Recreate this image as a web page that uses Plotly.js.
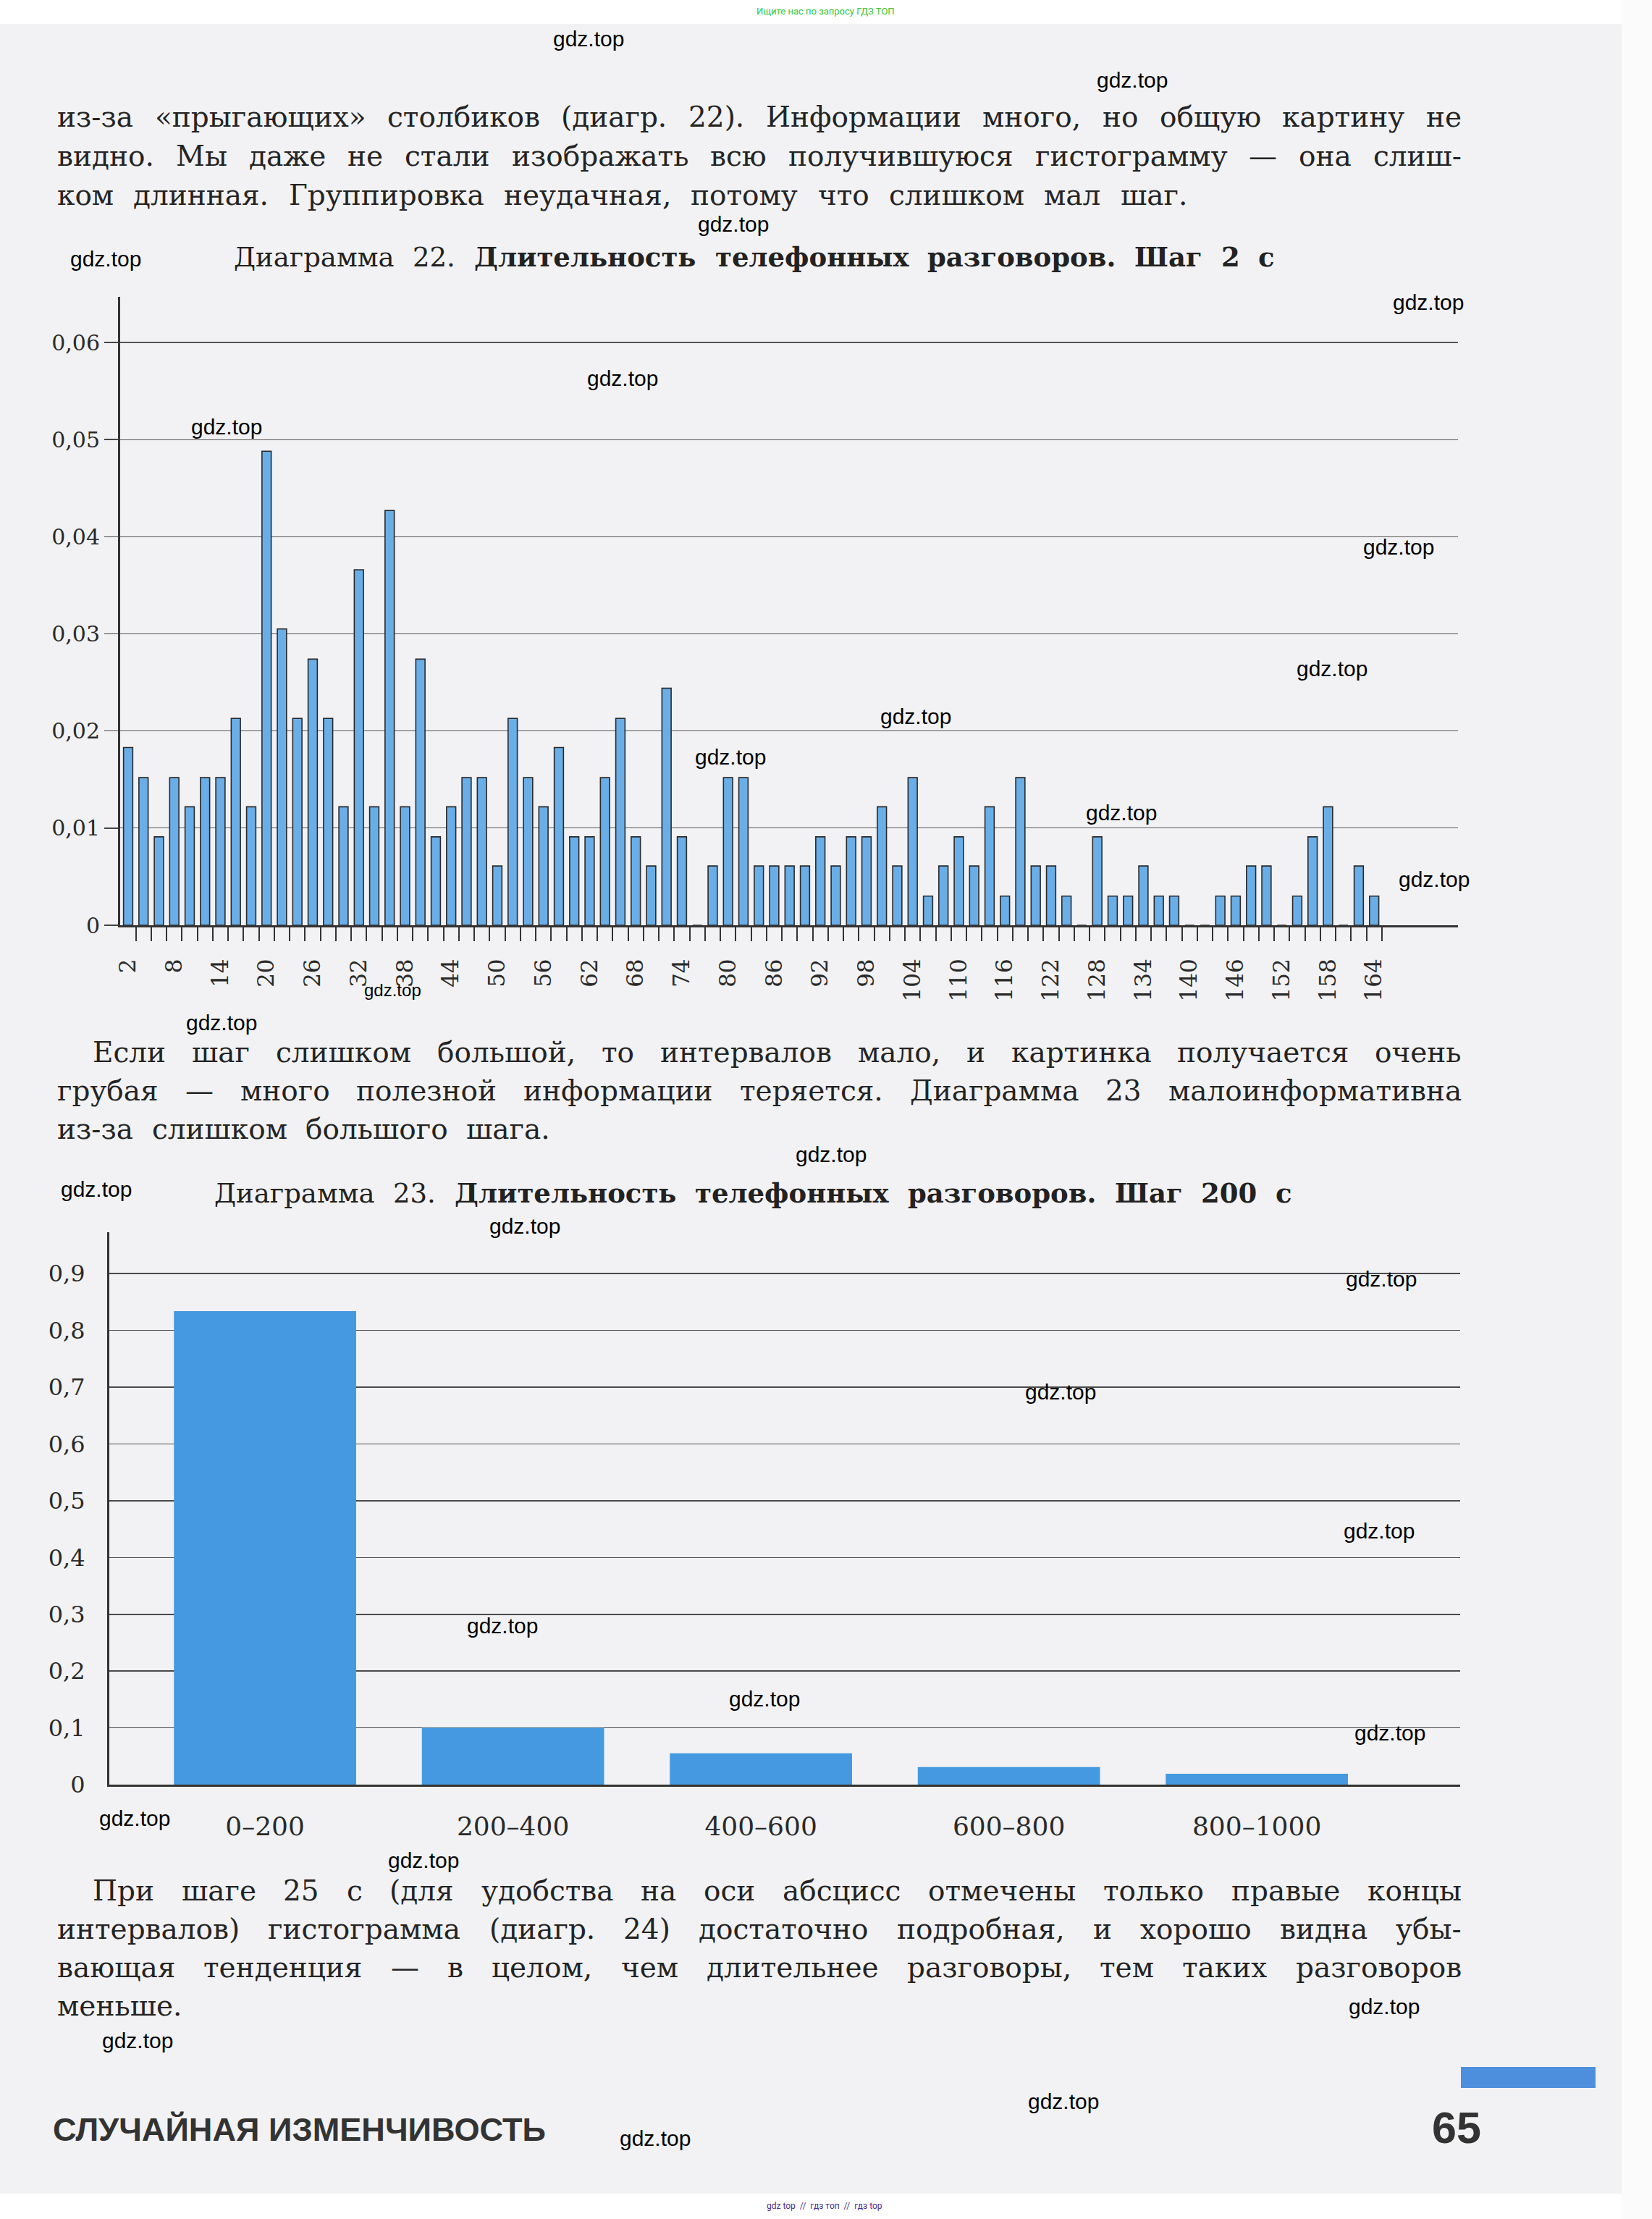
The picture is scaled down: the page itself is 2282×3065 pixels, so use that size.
<!DOCTYPE html>
<html><head><meta charset="utf-8">
<script src="https://cdn.plot.ly/plotly-3.0.1.min.js"></script>
<style>html,body{margin:0;padding:0;background:#f1f1f3}#page{width:2282px;height:3065px}</style>
</head><body><div id="page"></div>
<script>
const W = 2282, H = 3065;

// ---------- Диаграмма 22: шаг 2 с (правые концы интервалов) ----------
const bins22 = [2,4,6,8,10,12,14,16,18,20,22,24,26,28,30,32,34,36,38,40,
  42,44,46,48,50,52,54,56,58,60,62,64,66,68,70,72,74,76,78,80,
  82,84,86,88,90,92,94,96,98,100,102,104,106,108,110,112,114,116,118,120,
  122,124,126,128,130,132,134,136,138,140,142,144,146,148,150,152,154,156,158,160,
  162,164];
const share22 = [0.0183,0.0152,0.0091,0.0152,0.0122,0.0152,0.0152,0.0213,0.0122,0.0488,
  0.0305,0.0213,0.0274,0.0213,0.0122,0.0366,0.0122,0.0427,0.0122,0.0274,
  0.0091,0.0122,0.0152,0.0152,0.0061,0.0213,0.0152,0.0122,0.0183,0.0091,
  0.0091,0.0152,0.0213,0.0091,0.0061,0.0244,0.0091,0,0.0061,0.0152,
  0.0152,0.0061,0.0061,0.0061,0.0061,0.0091,0.0061,0.0091,0.0091,0.0122,
  0.0061,0.0152,0.0030,0.0061,0.0091,0.0061,0.0122,0.0030,0.0152,0.0061,
  0.0061,0.0030,0,0.0091,0.0030,0.0030,0.0061,0.0030,0.0030,0,
  0,0.0030,0.0030,0.0061,0.0061,0,0.0030,0.0091,0.0122,0,
  0.0061,0.0030];
const xTickVals22 = [2,8,14,20,26,32,38,44,50,56,62,68,74,80,86,92,98,104,110,116,122,128,134,140,146,152,158,164];
const xTickText22 = ['2','8','14','20','26','32','38','44','50','56','62','68','74','80','86','92','98','104','110','116','122','128','134','140','146','152','158','164'];
const yTickVals22 = [0,0.01,0.02,0.03,0.04,0.05,0.06];
const yTickText22 = ['0','0,01','0,02','0,03','0,04','0,05','0,06'];

// ---------- Диаграмма 23: шаг 200 с ----------
const cats23 = ['0–200','200–400','400–600','600–800','800–1000'];
const share23 = [0.834,0.100,0.055,0.031,0.019];
const yTickVals23 = [0,0.1,0.2,0.3,0.4,0.5,0.6,0.7,0.8,0.9];
const yTickText23 = ['0','0,1','0,2','0,3','0,4','0,5','0,6','0,7','0,8','0,9'];

// ---------- Тексты страницы ----------
const para1 = [
 'из-за «прыгающих» столбиков (диагр. 22). Информации много, но общую картину не',
 'видно. Мы даже не стали изображать всю получившуюся гистограмму — она слиш-',
 'ком длинная. Группировка неудачная, потому что слишком мал шаг.'
];
const para2 = [
 'Если шаг слишком большой, то интервалов мало, и картинка получается очень',
 'грубая — много полезной информации теряется. Диаграмма 23 малоинформативна',
 'из-за слишком большого шага.'
];
const para3 = [
 'При шаге 25 с (для удобства на оси абсцисс отмечены только правые концы',
 'интервалов) гистограмма (диагр. 24) достаточно подробная, и хорошо видна убы-',
 'вающая тенденция — в целом, чем длительнее разговоры, тем таких разговоров',
 'меньше.'
];
const title22Lead = 'Диаграмма 22.';
const title22Rest = 'Длительность телефонных разговоров. Шаг 2 с';
const title23Lead = 'Диаграмма 23.';
const title23Rest = 'Длительность телефонных разговоров. Шаг 200 с';
const footerLeft = 'СЛУЧАЙНАЯ ИЗМЕНЧИВОСТЬ';
const pageNum = '65';
const topNote = 'Ищите нас по запросу ГДЗ ТОП';
const bottomNote = 'gdz top  //  гдз топ  //  гдз top';
const wmText = 'gdz.top';
const wmPos = [[813,53],[1564,110],[1013,309],[146,357],[1973,417],[860,522],[313,589],
  [1932,755],[1840,923],[1265,989],[1009,1046],[1549,1122],[1981,1214],[542,1367],
  [306,1412],[1148,1594],[133,1643],[725,1693],[1908,1766],[1465,1922],[1905,2114],
  [694,2245],[1056,2346],[1920,2393],[186,2511],[585,2569],[1912,2771],[190,2818],
  [1469,2902],[905,2953]];

// ---------- текстовая вёрстка ----------
const SERIF = 'DejaVu Serif';
const ctx = document.createElement('canvas').getContext('2d');
function tw(t, size, weight, fam) { ctx.font = weight + ' ' + size + 'px "' + fam + '"'; return ctx.measureText(t).width; }
const ann = [];
function put(t, x, yc, size, weight, fam, color, xa) {
  ann.push({xref:'paper', yref:'paper', x:x/W, y:1-yc/H, xanchor:xa||'left', yanchor:'middle',
    text:t, showarrow:false, borderpad:0, font:{family:fam, size:size, color:color, weight:weight}});
}
function line(words, x0, x1, base, size, color) {
  const ws = words.map(w => tw(w[0], size, w[1], SERIF));
  const total = ws.reduce((a,b)=>a+b, 0);
  const sp = tw(' ', size, 'normal', SERIF);
  let gap = words.length > 1 ? (x1 - x0 - total) / (words.length - 1) : 0;
  if (gap < sp * 0.8) gap = sp * 0.8;
  let x = x0; const yc = base - 0.346 * size;
  words.forEach((w,i) => { put(w[0], x, yc, size, w[1], SERIF, color); x += ws[i] + gap; });
}
// rights: right edge of each line as seen on the page
function paragraph(lines, bases, rights, indent, size) {
  lines.forEach((ln, i) => {
    const words = ln.split(' ').map(s => [s, 'normal']);
    line(words, i === 0 ? indent : 78, rights[i], bases[i], size, '#242424');
  });
}
const BODY = 39;
paragraph(para1, [175,229,283], [2018,2018,1639], 78, BODY);
paragraph(para2, [1467,1520,1573], [2018,2018,759], 127, BODY);
paragraph(para3, [2625,2678,2731,2784], [2018,2018,2018,0], 127, BODY);

function title(lead, rest, x0, x1, base) {
  const words = lead.split(' ').map(s => [s,'normal']).concat(rest.split(' ').map(s => [s,'bold']));
  line(words, x0, x1, base, 37, '#222');
}
title(title22Lead, title22Rest, 322, 1760, 368);
title(title23Lead, title23Rest, 295, 1784, 1661);

// watermarks
wmPos.forEach((p, i) => put(wmText, p[0], p[1], i === 13 ? 24 : 30, 'normal', 'Liberation Sans', '#000', 'center'));

// footer
const fw = tw(footerLeft, 40, 'bold', 'Liberation Sans');
const fsize = 40 * 681 / fw;
put(footerLeft, 72, 2957 - 0.346 * fsize, fsize, 'bold', 'Liberation Sans', '#333', 'left');
put(pageNum, 2047, 2960 - 0.346 * 61, 61, 'bold', 'Liberation Sans', '#333', 'right');
put(topNote, 1140, 15, 13, 'normal', 'Roboto', '#34c73c', 'center');
put(bottomNote, 1139, 3047, 12, 'normal', 'Roboto', '#4b2d8f', 'center');

// ---------- фигура ----------
const traces = [
  {type:'bar', x:bins22, y:share22, width:1.2, xaxis:'x', yaxis:'y',
   marker:{color:'#6aaee8', line:{color:'#2a2a2a', width:1.6}}, hoverinfo:'skip'},
  {type:'bar', x:cats23, y:share23, width:0.735, xaxis:'x2', yaxis:'y2',
   marker:{color:'#4499e0', line:{width:0}}, hoverinfo:'skip'}
];
const tickFont = s => ({family:SERIF, size:s, color:'#2a2a2a'});
const layout = {
  width:W, height:H, autosize:false, margin:{l:0,r:0,t:0,b:0},
  paper_bgcolor:'#f2f2f4', plot_bgcolor:'rgba(0,0,0,0)', showlegend:false,
  font:{family:SERIF, color:'#333'},
  xaxis:{domain:[166/W, 2014/W], anchor:'y', range:[0.965, 174.9], tickmode:'array',
    tickvals:xTickVals22, ticktext:xTickText22, tickangle:-90, ticks:'outside', ticklen:19,
    tickcolor:'rgba(0,0,0,0)', ticklabelstandoff:12, tickfont:tickFont(31),
    minor:{tickmode:'array', tickvals:bins22.map(v => v + 1), ticks:'outside', ticklen:19,
      tickwidth:2, tickcolor:'#333', showgrid:false},
    showline:true, linecolor:'#333', linewidth:3, showgrid:false, zeroline:false, fixedrange:true},
  yaxis:{domain:[1-1278/H, 1-410/H], anchor:'x', range:[0, 0.0647], tickmode:'array',
    tickvals:yTickVals22, ticktext:yTickText22, ticks:'outside', ticklen:19, tickwidth:1.5,
    tickcolor:'#444', tickfont:tickFont(30), showline:true, linecolor:'#333', linewidth:3,
    showgrid:true, gridcolor:'#555', gridwidth:1.3, zeroline:false, fixedrange:true},
  xaxis2:{domain:[151/W, 2017/W], anchor:'y2', type:'category', range:[-0.628, 4.82],
    ticks:'', ticklabelstandoff:24, tickfont:tickFont(36), showline:true, linecolor:'#333',
    linewidth:3, showgrid:false, zeroline:false, fixedrange:true},
  yaxis2:{domain:[1-2465/H, 1-1702/H], anchor:'x2', range:[0, 0.973], tickmode:'array',
    tickvals:yTickVals23, ticktext:yTickText23, ticks:'', ticklabelstandoff:24,
    tickfont:tickFont(32), showline:true, linecolor:'#333', linewidth:3, showgrid:true,
    gridcolor:'#4a4a4a', gridwidth:1.5, zeroline:false, fixedrange:true},
  annotations: ann,
  shapes:[
    {type:'rect', xref:'paper', yref:'paper', x0:0, x1:1, y0:1-33/H, y1:1, fillcolor:'#ffffff', line:{width:0}, layer:'below'},
    {type:'rect', xref:'paper', yref:'paper', x0:0, x1:1, y0:0, y1:1-3030/H, fillcolor:'#ffffff', line:{width:0}, layer:'below'},
    {type:'rect', xref:'paper', yref:'paper', x0:2240/W, x1:1, y0:0, y1:1, fillcolor:'#fbfbfc', line:{width:0}, layer:'below'},
    {type:'rect', xref:'paper', yref:'paper', x0:2018/W, x1:2204/W, y0:1-2884/H, y1:1-2855/H, fillcolor:'#4d8fdc', line:{width:0}, layer:'above'}
  ]
};
Plotly.newPlot('page', traces, layout, {displayModeBar:false, staticPlot:true});
</script>
</body></html>
